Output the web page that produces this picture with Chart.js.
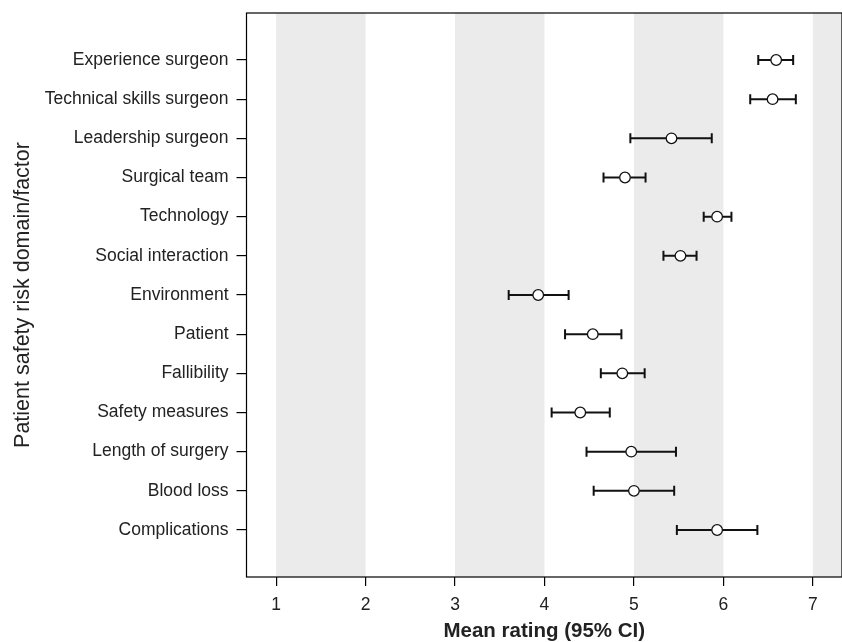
<!DOCTYPE html>
<html>
<head>
<meta charset="utf-8">
<script src="https://cdn.jsdelivr.net/npm/chart.js@4.4.1/dist/chart.umd.min.js"></script>
<style>
  html, body { margin: 0; padding: 0; background: #fff; }
  #wrap { width: 842px; height: 642px; }
</style>
</head>
<body>
<div id="wrap"><canvas id="c" width="842" height="642"></canvas></div>
<script>
// Categories, top to bottom
const categories = [
  "Experience surgeon",
  "Technical skills surgeon",
  "Leadership surgeon",
  "Surgical team",
  "Technology",
  "Social interaction",
  "Environment",
  "Patient",
  "Fallibility",
  "Safety measures",
  "Length of surgery",
  "Blood loss",
  "Complications"
];
const meanRating = [6.59, 6.55, 5.42, 4.90, 5.93, 5.52, 3.93, 4.54, 4.87, 4.40, 4.97, 5.00, 5.93];
const ciLower    = [6.39, 6.30, 4.96, 4.66, 5.78, 5.33, 3.60, 4.23, 4.63, 4.08, 4.47, 4.55, 5.48];
const ciUpper    = [6.78, 6.81, 5.87, 5.13, 6.09, 5.70, 4.27, 4.86, 5.12, 4.73, 5.47, 5.45, 6.38];
const xTicks = [1, 2, 3, 4, 5, 6, 7];
const grayBands = [[1, 2], [3, 4], [5, 6], [7, 8]];

const n = categories.length;
// row position: first category at top (value n), last at bottom (value 1)
const rowPos = categories.map((_, i) => n - i);

const points = meanRating.map((v, i) => ({ x: v, y: rowPos[i] }));

const FONT = 'Liberation Sans, Arial, Helvetica, sans-serif';

const bandsPlugin = {
  id: 'bands',
  beforeDatasetsDraw(chart) {
    const { ctx, chartArea: a, scales: { x } } = chart;
    ctx.save();
    ctx.beginPath();
    ctx.rect(a.left, a.top, a.right - a.left, a.bottom - a.top);
    ctx.clip();
    ctx.fillStyle = '#ebebeb';
    grayBands.forEach(([s, e]) => {
      const x0 = x.getPixelForValue(s), x1 = x.getPixelForValue(e);
      ctx.fillRect(x0, a.top, x1 - x0, a.bottom - a.top);
    });
    ctx.restore();
  }
};

const errPlugin = {
  id: 'errbars',
  afterDatasetsDraw(chart) {
    const { ctx, scales: { x, y } } = chart;
    ctx.save();
    ctx.strokeStyle = '#111';
    ctx.lineWidth = 2;
    const r = 5.3;
    for (let i = 0; i < n; i++) {
      const py = y.getPixelForValue(rowPos[i]);
      const lo = x.getPixelForValue(ciLower[i]);
      const hi = x.getPixelForValue(ciUpper[i]);
      const m = x.getPixelForValue(meanRating[i]);
      ctx.beginPath();
      ctx.moveTo(lo, py); ctx.lineTo(m - r, py);
      ctx.moveTo(m + r, py); ctx.lineTo(hi, py);
      ctx.moveTo(lo, py - 5); ctx.lineTo(lo, py + 5);
      ctx.moveTo(hi, py - 5); ctx.lineTo(hi, py + 5);
      ctx.stroke();
      ctx.beginPath();
      ctx.lineWidth = 1.3;
      ctx.fillStyle = '#fff';
      ctx.arc(m, py, r, 0, Math.PI * 2);
      ctx.fill();
      ctx.stroke();
      ctx.lineWidth = 2;
    }
    ctx.restore();
  }
};

const borderPlugin = {
  id: 'frame',
  afterDraw(chart) {
    const { ctx, chartArea: a } = chart;
    ctx.save();
    ctx.strokeStyle = '#000';
    ctx.lineWidth = 1.2;
    ctx.strokeRect(a.left, a.top, a.right - a.left, a.bottom - a.top);
    ctx.restore();
  }
};

new Chart(document.getElementById('c'), {
  type: 'scatter',
  data: {
    datasets: [{
      data: points,
      pointRadius: 0,
      pointHoverRadius: 0,
      showLine: false
    }]
  },
  options: {
    responsive: false,
    animation: false,
    events: [],
    layout: { padding: { top: 13, right: 0, left: 0, bottom: 0 } },
    plugins: { legend: { display: false }, tooltip: { enabled: false } },
    scales: {
      x: {
        type: 'linear',
        min: 0.669,
        max: 7.326,
        afterBuildTicks(s) { s.ticks = xTicks.map(v => ({ value: v })); },
        afterFit(s) { s.height = 65; s.paddingLeft = 0; s.paddingRight = 0; },
        grid: { display: true, drawOnChartArea: false, drawTicks: true, tickLength: 9, color: '#000', lineWidth: 1.2 },
        border: { display: false },
        ticks: { color: '#222', font: { family: FONT, size: 17.5 }, padding: 9, maxRotation: 0 },
        title: {
          display: true,
          text: 'Mean rating (95% CI)',
          color: '#222',
          font: { family: FONT, size: 20.5, weight: 'bold' },
          padding: { top: 0, bottom: -2 }
        }
      },
      y: {
        type: 'linear',
        min: -0.2,
        max: 14.2,
        afterBuildTicks(s) { s.ticks = rowPos.map(v => ({ value: v })); },
        afterFit(s) { s.width = 246.5; s.paddingTop = 0; s.paddingBottom = 0; },
        grid: { display: true, drawOnChartArea: false, drawTicks: true, tickLength: 10, color: '#000', lineWidth: 1.2 },
        border: { display: false },
        ticks: {
          color: '#222',
          font: { family: FONT, size: 17.5 },
          padding: 8,
          callback(v) { const i = n - v; return categories[i] !== undefined ? categories[i] : ''; }
        },
        title: {
          display: true,
          text: 'Patient safety risk domain/factor',
          color: '#222',
          font: { family: FONT, size: 21.5 },
          padding: { top: 10, bottom: 0 }
        }
      }
    }
  },
  plugins: [bandsPlugin, errPlugin, borderPlugin]
});
</script>
</body>
</html>
